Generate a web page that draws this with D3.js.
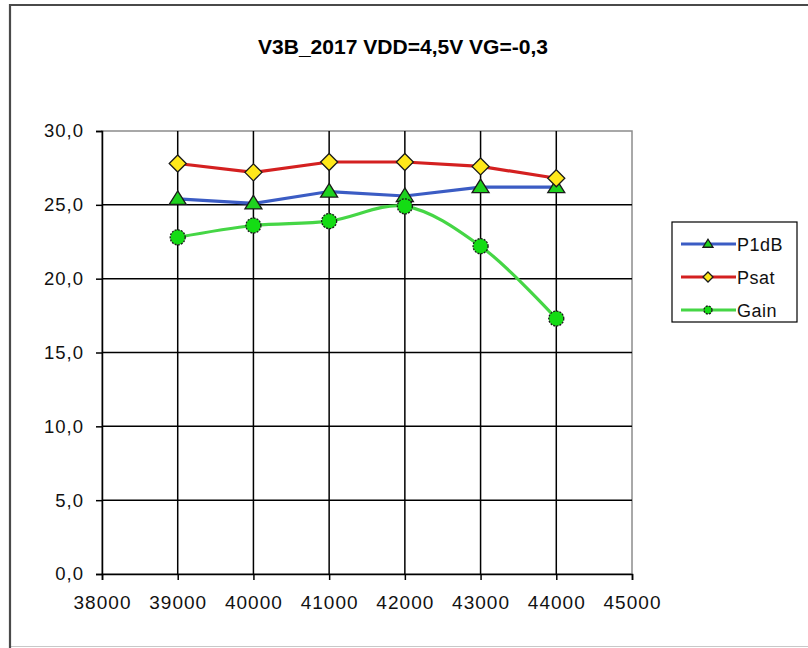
<!DOCTYPE html>
<html><head><meta charset="utf-8">
<script src="https://cdn.jsdelivr.net/npm/d3@7"></script>
<style>body{margin:0;background:#fff}svg{display:block}text{font-family:"Liberation Sans",Arial,sans-serif}</style>
</head><body>
<script>
const title = "V3B_2017 VDD=4,5V VG=-0,3";
const freqs = [39000, 40000, 41000, 42000, 43000, 44000];
const p1db = [25.4, 25.1, 25.9, 25.6, 26.2, 26.2];
const psat = [27.8, 27.2, 27.9, 27.9, 27.6, 26.8];
const gain = [22.8, 23.6, 23.9, 24.9, 22.2, 17.3];
const xTicks = [38000, 39000, 40000, 41000, 42000, 43000, 44000, 45000];
const yTicks = [0, 5, 10, 15, 20, 25, 30];
const seriesNames = ["P1dB", "Psat", "Gain"];

const W = 808, H = 648;
const svg = d3.select("body").append("svg").attr("width", W).attr("height", H);
svg.append("rect").attr("width", W).attr("height", H).attr("fill", "#fff");
svg.append("line").attr("x1", 10).attr("x2", W).attr("y1", 646.5).attr("y2", 646.5)
  .attr("stroke", "#c8c8c8").attr("stroke-width", 1);
svg.append("path").attr("d", `M10,${H}V5H${W}`)
  .attr("fill", "none").attr("stroke", "#4a4a4a").attr("stroke-width", 2.2);

svg.append("text").attr("x", 403).attr("y", 54).attr("text-anchor", "middle")
  .attr("font-weight", "bold").attr("font-size", 19.5)
  .attr("textLength", 290).attr("lengthAdjust", "spacingAndGlyphs").text(title);

const x = d3.scaleLinear().domain([38000, 45000]).range([102, 632]);
const y = d3.scaleLinear().domain([0, 30]).range([574, 131]);

// plot area border
svg.append("rect").attr("x", x(38000)).attr("y", y(30)).attr("width", x(45000) - x(38000))
  .attr("height", y(0) - y(30)).attr("fill", "#fff").attr("stroke", "#8c8c8c").attr("stroke-width", 1.5);

// grid
const g = svg.append("g");
g.selectAll(".hg").data(yTicks.filter(v => v > 0 && v < 30)).join("line")
  .attr("x1", x(38000)).attr("x2", x(45000)).attr("y1", d => y(d)).attr("y2", d => y(d))
  .attr("stroke", "#000").attr("stroke-width", 1.5);
g.selectAll(".vg").data(xTicks.filter(v => v > 38000 && v < 45000)).join("line")
  .attr("y1", y(0)).attr("y2", y(30)).attr("x1", d => x(d)).attr("x2", d => x(d))
  .attr("stroke", "#000").attr("stroke-width", 1.5);

// axes
const yAxis = svg.append("g").attr("transform", `translate(${x(38000)},0)`)
  .call(d3.axisLeft(y).tickValues(yTicks).tickSize(6).tickPadding(12)
    .tickFormat(d => d3.format(".1f")(d).replace(".", ",")));
const xAxis = svg.append("g").attr("transform", `translate(0,${y(0)})`)
  .call(d3.axisBottom(x).tickValues(xTicks).tickSize(6).tickPadding(16).tickFormat(d3.format("d")));
[yAxis, xAxis].forEach(a => {
  a.select(".domain").attr("stroke", "#000").attr("stroke-width", 1.5);
  a.selectAll(".tick line").attr("stroke", "#000").attr("stroke-width", 1.5);
  a.selectAll("text").attr("font-size", 18.5).attr("fill", "#111")
    .attr("font-family", "Liberation Sans, Arial, sans-serif").attr("letter-spacing", 1);
});
xAxis.selectAll("text").attr("textLength", 58).attr("lengthAdjust", "spacingAndGlyphs");

const series = [
  {name: "P1dB", vals: p1db, color: "#3b5cc4", marker: "tri", fill: "#1fd21f", curve: d3.curveLinear},
  {name: "Psat", vals: psat, color: "#d42020", marker: "dia", fill: "#ffe81a", curve: d3.curveLinear},
  {name: "Gain", vals: gain, color: "#45d645", marker: "cir", fill: "#14dc14", curve: d3.curveCatmullRom.alpha(0.5)}
];

function markerPath(type, s) {
  if (type === "tri") return `M0,${-s*0.95}L${s},${s*0.65}L${-s},${s*0.65}Z`;
  if (type === "dia") return `M0,${-s}L${s},0L0,${s}L${-s},0Z`;
  return null;
}
function drawMarker(sel, type, cx, cy, s, fill) {
  if (type === "cir") {
    sel.append("circle").attr("cx", cx).attr("cy", cy).attr("r", s)
      .attr("fill", fill).attr("stroke", "#1a1a1a").attr("stroke-width", 1.3).attr("stroke-dasharray", "2,1.2");
  } else {
    sel.append("path").attr("transform", `translate(${cx},${cy})`).attr("d", markerPath(type, s))
      .attr("fill", fill).attr("stroke", "#1a1a1a").attr("stroke-width", 1.3);
  }
}

const lineGen = (curve) => d3.line().x((d, i) => x(freqs[i])).y(d => y(d)).curve(curve);
series.forEach(s => {
  svg.append("path").attr("d", lineGen(s.curve)(s.vals)).attr("fill", "none")
    .attr("stroke", s.color).attr("stroke-width", 3.2);
});
series.forEach(s => {
  s.vals.forEach((v, i) => drawMarker(svg, s.marker, x(freqs[i]), y(v), s.marker === "cir" ? 7.5 : 8.5, s.fill));
});

// legend
const lg = svg.append("g");
lg.append("rect").attr("x", 672).attr("y", 222).attr("width", 125).attr("height", 100)
  .attr("fill", "#fff").attr("stroke", "#000").attr("stroke-width", 1.2);
series.forEach((s, i) => {
  const ly = 244 + i * 33;
  lg.append("line").attr("x1", 681).attr("x2", 736).attr("y1", ly).attr("y2", ly)
    .attr("stroke", s.color).attr("stroke-width", 3);
  drawMarker(lg, s.marker, 708, ly, s.marker === "cir" ? 4 : 5, s.fill);
  lg.append("text").attr("x", 737).attr("y", ly + 6.5).attr("font-size", 18).attr("fill", "#111")
    .attr("letter-spacing", 0.5).text(s.name);
});
</script>
</body></html>
